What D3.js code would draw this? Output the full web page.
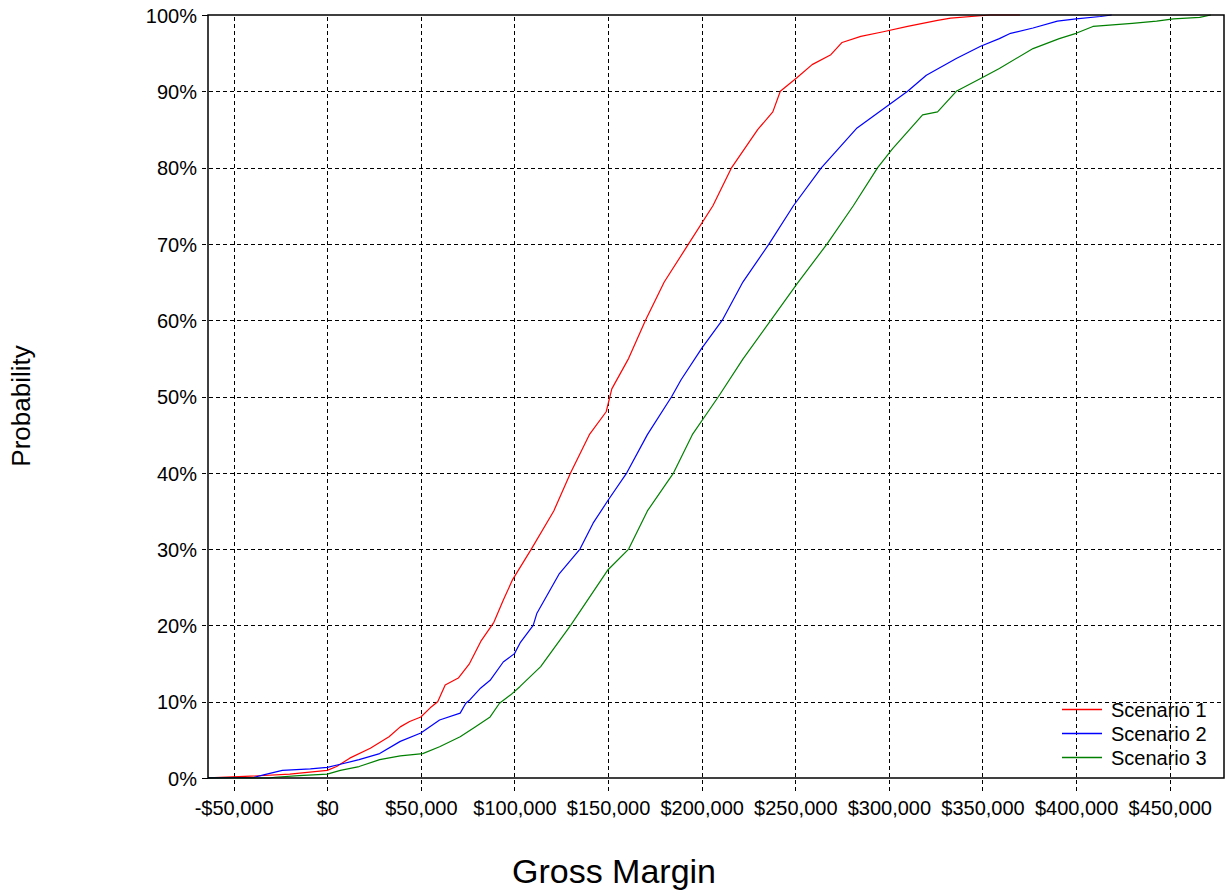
<!DOCTYPE html>
<html>
<head>
<meta charset="utf-8">
<script src="https://cdn.jsdelivr.net/npm/d3@7"></script>
<style>
  html, body { margin: 0; padding: 0; background: #fff; }
  svg { display: block; font-family: Arial, "Liberation Sans", sans-serif; }
</style>
</head>
<body>
<svg id="chart" width="1228" height="890"></svg>
<script>
// Cumulative distribution of gross margin for three scenarios.
// Each series: [gross margin ($), cumulative probability (%)]
const scenario1 = [
  [-65000, 0], [-44000, 0.2], [-20000, 0.5], [0, 1.0], [5000, 1.5], [12000, 2.6],
  [23000, 3.9], [33000, 5.4], [39000, 6.7], [44000, 7.4], [50000, 8.0], [55000, 9.2],
  [59000, 10], [63000, 12.2], [70000, 13.1], [76000, 15], [82000, 17.9], [89000, 20.4],
  [94000, 23.3], [99000, 26], [109000, 30], [121000, 35], [130000, 40], [140000, 45],
  [149000, 48], [152000, 51], [161000, 55], [170000, 60], [180000, 65], [193000, 70],
  [206000, 75], [216000, 80], [230000, 85], [238000, 87.3], [242000, 90], [251000, 91.8],
  [259000, 93.5], [269000, 94.8], [275000, 96.4], [285000, 97.2], [297000, 97.8],
  [310000, 98.5], [326000, 99.3], [333000, 99.6], [354000, 100], [370000, 100]
];
const scenario2 = [
  [-65000, 0], [-39000, 0.1], [-34000, 0.4], [-24000, 1.0], [-9000, 1.2], [0, 1.4],
  [7000, 1.8], [17000, 2.4], [28000, 3.2], [39000, 4.8], [50000, 5.9], [60000, 7.6],
  [71000, 8.5], [74000, 9.8], [76000, 10.2], [82000, 11.8], [87000, 12.8], [94000, 15.2],
  [100000, 16.3], [103000, 17.7], [110000, 20], [112000, 21.6], [124000, 26.8],
  [135000, 30], [142000, 33.4], [150000, 36.4], [160000, 40], [171000, 45], [184000, 50],
  [189000, 52.2], [200000, 56.3], [211000, 60], [222000, 65], [236000, 70], [249000, 75],
  [264000, 80], [283000, 85.2], [310000, 90], [320000, 92.1], [336000, 94.3],
  [349000, 95.9], [359000, 96.9], [365000, 97.6], [377000, 98.3], [390000, 99.2],
  [400000, 99.5], [413000, 99.8], [419000, 100]
];
const scenario3 = [
  [-65000, 0], [-31000, 0], [-28000, 0.1], [-15000, 0.3], [0, 0.5], [7000, 1.0],
  [17000, 1.5], [28000, 2.4], [39000, 2.9], [51000, 3.2], [60000, 4.1], [71000, 5.4],
  [79000, 6.7], [87000, 8.0], [92000, 9.8], [98000, 10.9], [103000, 12.0], [114000, 14.6],
  [130000, 20], [150000, 27.3], [161000, 30], [171000, 35], [185000, 40], [195000, 45],
  [209000, 50], [222000, 54.9], [237000, 60], [251000, 64.8], [267000, 70], [281000, 75],
  [294000, 80], [302000, 82.5], [318000, 86.9], [326000, 87.3], [336000, 90],
  [350000, 91.8], [359000, 93], [377000, 95.6], [391000, 96.9], [400000, 97.6],
  [409000, 98.5], [430000, 98.9], [443000, 99.2], [452000, 99.5], [466000, 99.7],
  [472000, 100]
];

const seriesNames = ["Scenario 1", "Scenario 2", "Scenario 3"];
const seriesColors = ["#ff0000", "#0000ff", "#008000"];
const xTicks = [-50000, 0, 50000, 100000, 150000, 200000, 250000, 300000, 350000, 400000, 450000];
const xTickLabels = ["-$50,000", "$0", "$50,000", "$100,000", "$150,000", "$200,000",
                     "$250,000", "$300,000", "$350,000", "$400,000", "$450,000"];
const yTicks = [0, 10, 20, 30, 40, 50, 60, 70, 80, 90, 100];
const yTickLabels = ["0%", "10%", "20%", "30%", "40%", "50%", "60%", "70%", "80%", "90%", "100%"];
const xTitle = "Gross Margin";
const yTitle = "Probability";

const svg = d3.select("#chart");
const plot = { left: 208, top: 15, right: 1224, bottom: 778 };

const x = d3.scaleLinear().domain([-63700, 479000]).range([plot.left, plot.right]);
const y = d3.scaleLinear().domain([0, 100]).range([plot.bottom, plot.top]);

svg.append("defs").append("clipPath").attr("id", "plot-clip")
  .append("rect")
  .attr("x", plot.left).attr("y", plot.top - 1)
  .attr("width", plot.right - plot.left).attr("height", plot.bottom - plot.top + 2);

// Grid: dashed lines that extend a little past the frame as tick marks
const xAxis = d3.axisBottom(x)
  .tickValues(xTicks)
  .tickSize(-(plot.bottom - plot.top) - 13)
  .tickFormat((d, i) => xTickLabels[i]);
const gx = svg.append("g")
  .attr("class", "x-grid")
  .attr("transform", `translate(0,${plot.bottom + 13})`)
  .call(xAxis);
gx.select(".domain").remove();
gx.selectAll(".tick line")
  .attr("stroke", "#000").attr("stroke-width", 1).attr("stroke-dasharray", "4,3")
  .attr("shape-rendering", "crispEdges");
gx.selectAll(".tick text")
  .attr("y", 9.5).attr("dy", "0.71em")
  .attr("fill", "#000").style("font-size", "20px");

const yAxis = d3.axisLeft(y)
  .tickValues(yTicks)
  .tickSize(-(plot.right - plot.left) - 6)
  .tickFormat((d, i) => yTickLabels[i]);
const gy = svg.append("g")
  .attr("class", "y-grid")
  .attr("transform", `translate(${plot.left - 6},0)`)
  .call(yAxis);
gy.select(".domain").remove();
gy.selectAll(".tick line")
  .attr("stroke", "#000").attr("stroke-width", 1)
  .attr("stroke-dasharray", d => (d === 0 || d === 100) ? null : "4,3")
  .attr("shape-rendering", "crispEdges");
gy.selectAll(".tick text")
  .attr("x", -5).attr("dy", "0.36em")
  .attr("fill", "#000").style("font-size", "20px");
gy.selectAll(".tick").filter(d => d === 0 || d === 100).select("line")
  .attr("x2", 6);

// Curves
const line = d3.line()
  .x(d => x(d[0]))
  .y(d => y(d[1]));

const curves = svg.append("g").attr("clip-path", "url(#plot-clip)");
[scenario1, scenario2, scenario3].forEach((data, i) => {
  curves.append("path")
    .datum(data)
    .attr("fill", "none")
    .attr("stroke", seriesColors[i])
    .attr("stroke-width", 1.2)
    .attr("stroke-linejoin", "round")
    .attr("d", line);
});

// Frame
svg.append("rect")
  .attr("x", plot.left).attr("y", plot.top)
  .attr("width", plot.right - plot.left).attr("height", plot.bottom - plot.top)
  .attr("fill", "none").attr("stroke", "#000").attr("stroke-width", 1.5);

// Legend
const legend = svg.append("g").attr("class", "legend");
const legendRows = legend.selectAll("g.row")
  .data(seriesNames)
  .join("g")
  .attr("class", "row")
  .attr("transform", (d, i) => `translate(0,${709 + i * 24})`);
legendRows.append("path")
  .attr("d", "M1062,0.5H1102")
  .attr("fill", "none")
  .attr("stroke", (d, i) => seriesColors[i])
  .attr("stroke-width", 1.5);
legendRows.append("text")
  .attr("x", 1111).attr("y", 7.5)
  .attr("fill", "#000").style("font-size", "20px")
  .text(d => d);

// Axis titles
svg.append("text")
  .attr("x", 614).attr("y", 883)
  .attr("text-anchor", "middle")
  .attr("fill", "#000").style("font-size", "34px")
  .text(xTitle);

svg.append("text")
  .attr("transform", "translate(30,406) rotate(-90)")
  .attr("text-anchor", "middle")
  .attr("fill", "#000").style("font-size", "26px")
  .text(yTitle);
</script>
</body>
</html>
